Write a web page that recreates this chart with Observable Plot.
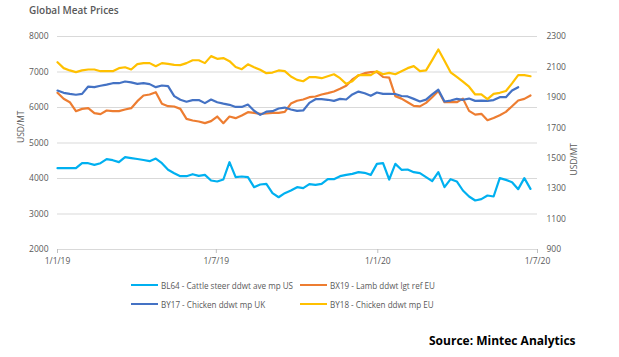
<!DOCTYPE html>
<html><head><meta charset="utf-8">
<script src="https://cdn.jsdelivr.net/npm/d3@7"></script>
<script src="https://cdn.jsdelivr.net/npm/@observablehq/plot@0.6"></script>
<style>
body{margin:0;background:#fff;}
#wrap{position:relative;width:619px;height:357px;overflow:hidden;font-family:"Open Sans",sans-serif;background:#fff;}
#chart{position:absolute;left:0;top:0;}
#title{position:absolute;left:29px;top:3px;font-size:10px;font-weight:600;color:#595959;}
.leg{position:absolute;font-size:8.1px;color:#595959;display:flex;align-items:center;white-space:nowrap;height:12px;}
.sw{display:inline-block;width:27px;height:2.2px;margin-right:3px;}
#source{position:absolute;left:429px;top:332px;font-size:12px;font-weight:700;color:#000;font-family:"Open Sans",sans-serif;}
</style></head><body>
<div id="wrap">
  <div id="chart"></div>
  <div id="title">Global Meat Prices</div>
  <div id="legend"></div>
  <div id="source">Source: Mintec Analytics</div>
</div>
<script>
// weekly observations starting 1 Jan 2019
const startDate = "2019-01-01";

// BL64 - Cattle steer ddwt ave mp US (left axis, USD/MT)
const cattleUS = [4290,4290,4290,4290,4431,4431,4385,4431,4544,4516,
 4460,4600,4575,4550,4520,4488,4563,4431,4245,4150,
 4065,4065,4121,4075,4103,3944,3915,3972,4460,4037,
 4056,4037,3755,3831,3850,3586,3473,3586,3662,3756,
 3728,3841,3822,3850,3981,3981,4066,4103,4132,4179,
 4160,4103,4413,4432,3972,4413,4244,4254,4179,4150,
 4038,3925,4179,3756,3981,3916,3662,3493,3380,3418,
 3521,3493,4010,3962,3897,3700,4010,3709];

// BX19 - Lamb ddwt lgt ref EU (left axis, USD/MT)
const lambEU = [6413,6244,6150,5897,5962,5981,5840,5812,5915,5897,
 5897,5944,5981,6178,6338,6366,6432,6103,6037,6028,
 5962,5681,5634,5606,5559,5615,5746,5559,5746,5699,
 5775,5868,5850,5822,5831,5850,5850,5878,6110,6190,
 6225,6291,6310,6366,6404,6451,6526,6610,6789,6901,
 6967,6995,7005,6860,6840,6320,6250,6150,6045,6032,
 6130,6290,6465,6150,6160,6150,6250,5905,5798,5822,
 5643,5704,5783,5877,6037,6196,6244,6340];

// BY17 - Chicken ddwt mp UK (right axis, USD/MT)
const chickenUK = [1945,1930,1923,1917,1923,1971,1967,1976,1984,1993,
 1993,2004,1998,1989,1993,1987,1967,1978,1974,1908,
 1884,1871,1882,1882,1862,1886,1868,1859,1851,1837,
 1837,1853,1812,1785,1806,1809,1827,1833,1820,1811,
 1814,1864,1888,1888,1884,1877,1890,1886,1919,1938,
 1927,1910,1932,1923,1923,1922,1909,1906,1890,1873,
 1885,1920,1950,1873,1879,1890,1884,1892,1877,1878,
 1877,1882,1901,1901,1945,1967];

// BY18 - Chicken ddwt mp EU (right axis, USD/MT)
const chickenEU = [2131,2092,2077,2066,2077,2083,2083,2072,2072,2072,
 2092,2098,2083,2118,2125,2125,2105,2125,2120,2114,
 2112,2125,2144,2144,2125,2171,2153,2158,2138,2100,
 2085,2117,2098,2081,2059,2063,2077,2072,2037,2015,
 2006,2033,2033,2026,2039,2052,2026,1989,2006,2046,
 2046,2046,2072,2052,2061,2052,2072,2092,2105,2072,
 2077,2145,2215,2140,2065,2034,2003,1970,1919,1919,
 1888,1923,1930,1942,1992,2046,2046,2039];

const seriesNames = ["BL64 - Cattle steer ddwt ave mp US","BX19 - Lamb ddwt lgt ref EU","BY17 - Chicken ddwt mp UK","BY18 - Chicken ddwt mp EU"];
const seriesValues = [cattleUS, lambEU, chickenUK, chickenEU];
const seriesAxis = ["left","left","right","right"];
const seriesColors = ["#00B0F0","#ED7D31","#4472C4","#FFC000"];

const leftTicks = [2000,3000,4000,5000,6000,7000,8000];
const rightTicks = [900,1100,1300,1500,1700,1900,2100,2300];
const xTickDates = ["2019-01-01","2019-07-01","2020-01-01","2020-07-01"];
const xTickLabels = ["1/1/19","1/7/19","1/1/20","1/7/20"];
const yLabel = "USD/MT";

// secondary axis mapping: right domain [900,2300] shares the frame with left [2000,8000]
const toLeft = v => 2000 + (v - 900) * (8000 - 2000) / (2300 - 900);
const fromLeft = v => 900 + (v - 2000) * (2300 - 900) / (8000 - 2000);

const t0 = new Date(startDate);
const rows = [];
seriesValues.forEach((vals, s) => {
  vals.forEach((v, i) => {
    rows.push({series: seriesNames[s], date: d3.utcDay.offset(t0, 7 * i),
      value: seriesAxis[s] === "right" ? toLeft(v) : v});
  });
});

const xLabelMap = new Map(xTickDates.map((d, i) => [+new Date(d), xTickLabels[i]]));

const chart = Plot.plot({
  width: 619, height: 270,
  marginLeft: 57, marginRight: 82, marginTop: 36, marginBottom: 21,
  style: {fontFamily: "'Open Sans', sans-serif", fontSize: "8.5px", color: "#595959", background: "transparent"},
  x: {type: "utc", domain: [new Date("2019-01-01"), new Date("2020-07-01")]},
  y: {domain: [2000, 8000]},
  color: {domain: seriesNames, range: seriesColors},
  marks: [
    Plot.ruleY(leftTicks, {stroke: "#d9d9d9", strokeWidth: 1}),
    Plot.axisY(leftTicks, {anchor: "left", tickSize: 0, tickPadding: 9, label: null, fill: "#595959",
      tickFormat: d => String(d)}),
    Plot.axisY(rightTicks.map(toLeft), {anchor: "right", tickSize: 0, tickPadding: 9, label: null, fill: "#595959",
      tickFormat: d => String(Math.round(fromLeft(d)))}),
    Plot.axisX(xTickDates.map(d => new Date(d)), {anchor: "bottom", tickSize: 4, tickPadding: 4, label: null,
      stroke: "#bfbfbf", fill: "#595959", tickFormat: d => xLabelMap.get(+d)}),
    Plot.lineY(rows, {x: "date", y: "value", z: "series", stroke: "series", strokeWidth: 2.2, curve: "linear"}),
    Plot.text([yLabel], {frameAnchor: "left", dx: -36, rotate: -90, text: d => d, fill: "#595959", fontSize: 8.5}),
    Plot.text([yLabel], {frameAnchor: "right", dx: 37, rotate: -90, text: d => d, fill: "#595959", fontSize: 8.5})
  ]
});
document.getElementById("chart").appendChild(chart);

// legend (2 x 2 grid)
const legPos = [[131, 279], [300, 279], [131, 298], [300, 298]];
const legend = document.getElementById("legend");
seriesNames.forEach((name, i) => {
  const el = document.createElement("div");
  el.className = "leg";
  el.style.left = legPos[i][0] + "px";
  el.style.top = legPos[i][1] + "px";
  el.innerHTML = `<span class="sw" style="background:${seriesColors[i]}"></span><span>${name}</span>`;
  legend.appendChild(el);
});
</script>
</body></html>
